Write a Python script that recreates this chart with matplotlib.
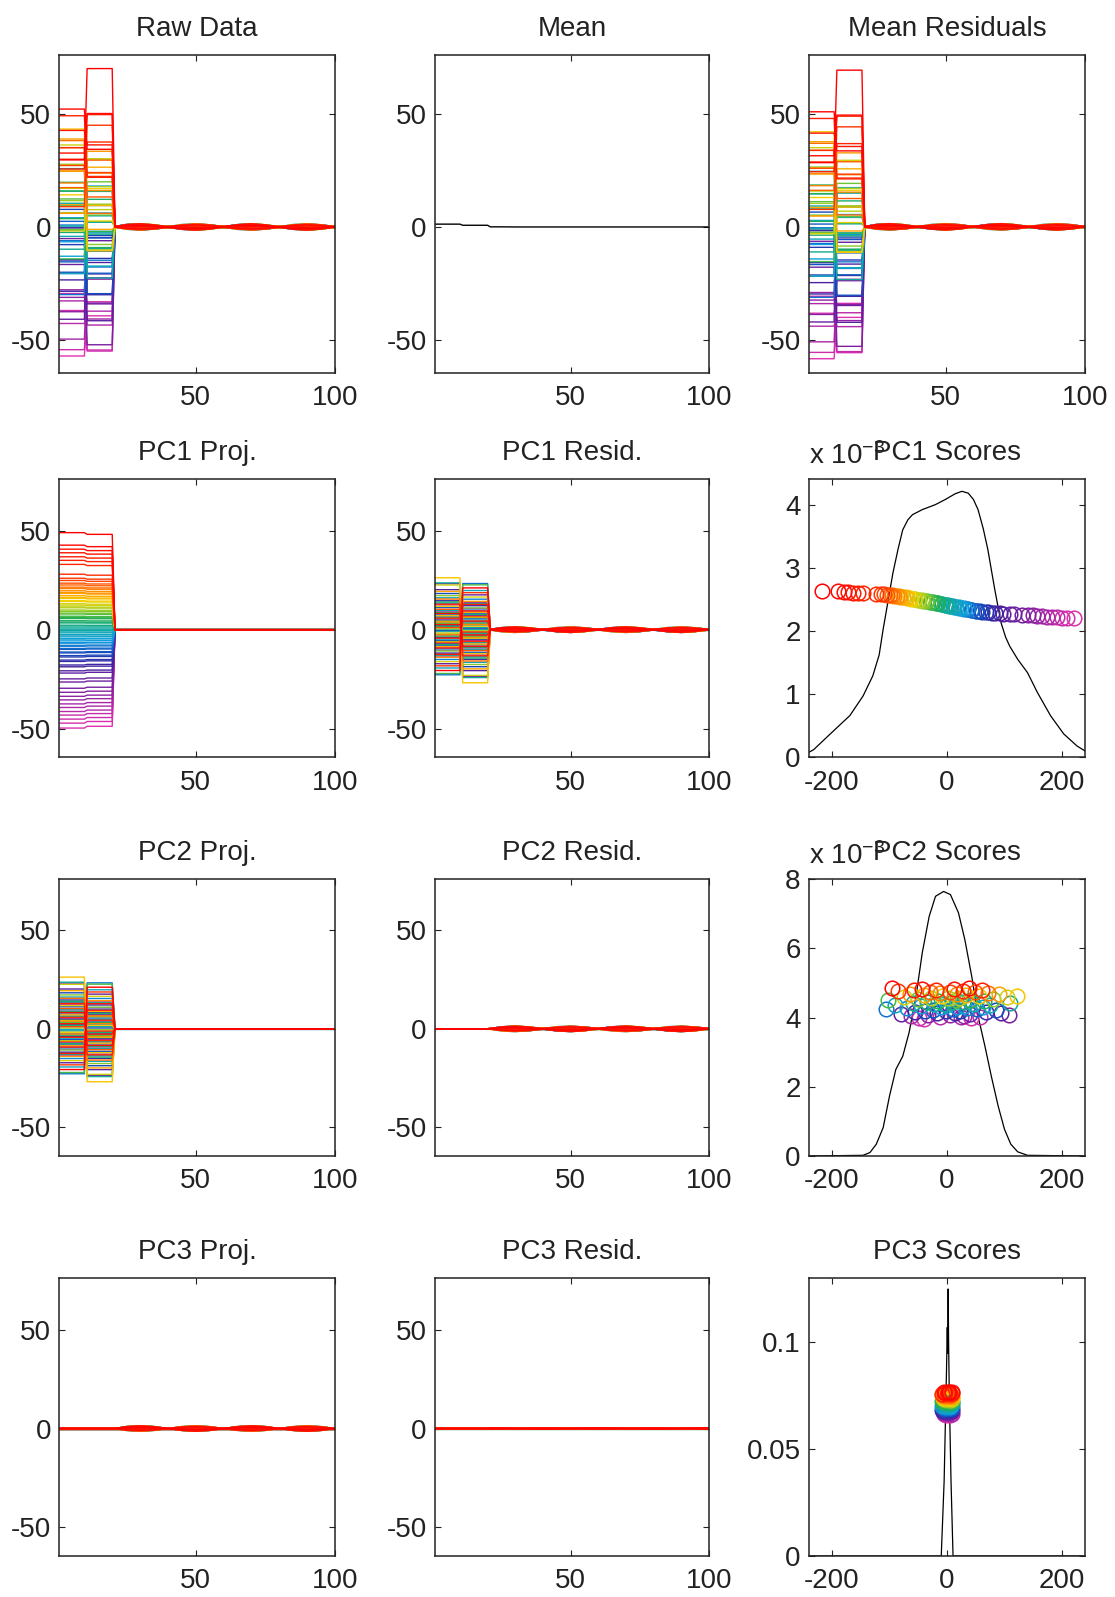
import numpy as np
import matplotlib
matplotlib.use("Agg")
import matplotlib.pyplot as plt
from matplotlib.colors import LinearSegmentedColormap
from matplotlib.ticker import FuncFormatter

plt.rcParams['font.family'] = ['Liberation Sans', 'DejaVu Sans']
plt.rcParams['font.size'] = 20
plt.rcParams['mathtext.fontset'] = 'custom'
plt.rcParams['mathtext.rm'] = 'Liberation Sans'
plt.rcParams['mathtext.it'] = 'Liberation Sans'
plt.rcParams['axes.unicode_minus'] = False
plt.rcParams['text.color'] = '#222222'
plt.rcParams['xtick.color'] = '#222222'
plt.rcParams['ytick.color'] = '#222222'

# sample positions along each curve (variable index)
xs = [1, 10, 11, 20, 21, 25, 30, 35, 40, 45, 50, 55, 60, 65, 70, 75, 80, 85, 90, 95, 100]

mean_curve = [1.2, 1.2, 0.7, 0.7, 0.0, 0.0, -0.05, -0.05, -0.05, -0.05, -0.05, -0.05,
              -0.05, -0.05, -0.05, -0.05, -0.05, -0.05, -0.05, -0.05, -0.05]
load1 = [-0.226, -0.226, -0.222, -0.222, 0, 0, 0, 0, 0, 0, 0, 0, 0, 0, 0, 0, 0, 0, 0, 0, 0]
load2 = [0.215, 0.215, -0.22, -0.22, 0, 0, 0, 0, 0, 0, 0, 0, 0, 0, 0, 0, 0, 0, 0, 0, 0]
load3 = [0, 0, 0, 0, 0, 0.11, 0.158, 0.11, 0, -0.11, -0.158, -0.11, 0,
         0.11, 0.158, 0.11, 0, -0.11, -0.158, -0.11, 0]
load4 = [0, 0, 0, 0, 0.15, 0.11, 0, -0.11, -0.158, -0.11, 0, 0.11, 0.158,
         0.11, 0, -0.11, -0.158, -0.11, 0, 0.11, 0.158]

# per-curve scores, ordered by PC1 score (red -> magenta)
score1 = [-217, -189, -180, -172, -163, -155, -146, -124, -115, -110,
          -104, -100, -95, -92, -87, -83, -81, -76, -72, -70,
          -65, -63, -58, -55, -51, -49, -44, -41, -37, -35,
          -30, -27, -25, -20, -17, -15, -10, -8, -4, -1,
          2, 3, 7, 11, 12, 16, 20, 21, 25, 29,
          30, 35, 37, 42, 44, 50, 52, 58, 61, 68,
          71, 79, 83, 92, 97, 110, 117, 131, 140, 149,
          157, 166, 174, 183, 191, 200, 209, 220]
score2 = [-96, 38, -43, 12, -58, 60, -20, 27, -85, 5,
          48, -30, 72, -12, 18, -65, 90, -40, 33, 122,
          -8, 55, -75, 105, 20, -28, 2, 80, -50, 15,
          -103, 40, -15, 65, -35, 8, 28, -60, 110, -5,
          45, -22, 75, -90, 0, 30, -45, 62, -10, 18,
          -70, 35, -106, 10, 52, -25, 85, -38, 22, -2,
          68, -55, 14, -18, 94, -80, 40, 108, -33, 6,
          30, -62, 25, -12, 58, -48, 42, -40]
score3 = [4, -6, 8, 1, -3, 9, 2, -8, 5, 0,
          -5, 7, 3, -9, 6, -2, 1, 8, -4, 2,
          5, -7, 0, 9, -1, 3, -6, 6, 2, -3,
          7, -8, 1, 4, -5, 8, 0, -2, 6, 3,
          -7, 2, 9, -4, 1, 5, -3, 7, -9, 0,
          4, -1, 6, -6, 2, 8, -4, 3, 1, -8,
          5, 0, 7, -5, 2, 9, -2, 4, -7, 1,
          6, -3, 3, 8, -6, 0, 5, -1]
score4 = [1.2, -0.8, 0.5, -1.5, 1.8, 0.2, -1.1, 0.9, -0.4, 1.4,
          -1.7, 0.6, 1.1, -0.3, -1.2, 1.6, 0.1, -0.9, 1.3, -0.6,
          0.8, -1.4, 1.7, -0.2, 0.4, -1.8, 1.0, -0.7, 0.3, 1.5,
          -1.0, 0.7, -1.6, 1.9, -0.5, 0.0, 1.2, -1.3, 0.6, -0.1,
          1.4, -0.9, 0.2, -1.5, 1.1, 0.8, -0.4, 1.6, -1.1, 0.5,
          -0.8, 1.3, -1.9, 0.3, 0.9, -0.6, 1.7, -1.2, 0.1, 1.0,
          -1.4, 0.4, 1.5, -0.3, -1.0, 0.7, 1.8, -1.6, 0.2, -0.7,
          1.1, -1.3, 0.6, 1.4, -0.5, -1.1, 0.9, -0.2]

# density estimates of the scores (x, y), y for PC1/PC2 in units of 1e-3
kde1_x = [-240, -232, -203, -169, -146, -129, -118, -111, -102, -94, -85, -77, -68, -60, -43,
          -20, -3, 14, 26, 37, 46, 54, 63, 71, 83, 94, 102, 109, 123, 140, 157, 180, 203, 226, 240]
kde1_y = [0.08, 0.12, 0.37, 0.66, 0.97, 1.29, 1.62, 2.03, 2.50, 2.92, 3.30, 3.60, 3.76, 3.84,
          3.92, 4.00, 4.08, 4.17, 4.21, 4.18, 4.08, 3.92, 3.62, 3.29, 2.66, 2.13, 1.90, 1.76,
          1.55, 1.34, 1.03, 0.66, 0.37, 0.18, 0.10]
kde2_x = [-240, -146, -134, -123, -111, -100, -89, -77, -66, -54, -43, -31, -20, -6, 6, 20,
          31, 43, 54, 66, 77, 89, 100, 111, 123, 140, 240]
kde2_y = [0.0, 0.02, 0.10, 0.34, 0.82, 1.73, 2.50, 2.88, 3.56, 4.60, 5.87, 6.92, 7.50, 7.64,
          7.55, 7.02, 6.25, 5.19, 4.04, 3.17, 2.31, 1.44, 0.77, 0.34, 0.12, 0.02, 0.0]
kde3_x = [-240, -10, -5, -1, 0.5, 1.2, 2.0, 2.8, 4, 7, 10.5, 240]
kde3_y = [0.0, 0.0, 0.035, 0.085, 0.107, 0.095, 0.125, 0.10, 0.075, 0.035, 0.0, 0.0]

titles = ["Raw Data", "Mean", "Mean Residuals",
          "PC1 Proj.", "PC1 Resid.", "PC1 Scores",
          "PC2 Proj.", "PC2 Resid.", "PC2 Scores",
          "PC3 Proj.", "PC3 Resid.", "PC3 Scores"]

rainbow = LinearSegmentedColormap.from_list("rb", [
    (0.0, "#ff0000"), (0.1, "#ff3300"), (0.18, "#ff8c00"), (0.26, "#f5d000"),
    (0.33, "#a8d020"), (0.41, "#20b050"), (0.5, "#10a8a0"), (0.62, "#10a0e0"),
    (0.72, "#1050c0"), (0.8, "#4020a0"), (0.88, "#8020a0"), (1.0, "#e030b0")])

s1 = np.array(score1, float)
s2 = np.array(score2, float)
s3 = np.array(score3, float)
s4 = np.array(score4, float)
n = len(s1)
colors = [rainbow(i / (n - 1)) for i in range(n)]

mu = np.array(mean_curve)
p1 = np.outer(s1, load1)
p2 = np.outer(s2, load2)
p3 = np.outer(s3, load3)
p4 = np.outer(s4, load4)
raw = mu + p1 + p2 + p3 + p4

line_sets = {
    0: raw, 2: raw - mu,
    3: p1, 4: p2 + p3 + p4,
    6: p2, 7: p3 + p4,
    9: p3, 10: p4,
}
score_panels = (5, 8, 11)

fig = plt.figure(figsize=(11.15, 15.97), dpi=100)
W, H = 1115.0, 1597.0
col_l = [59.3, 435, 809]
col_w = [275.7, 274, 276]
row_t = [55, 479.3, 879, 1278.3]
row_b = [372.7, 757.3, 1156, 1556]

axes = []
for r in range(4):
    for c in range(3):
        ax = fig.add_axes([col_l[c] / W, 1 - row_b[r] / H, col_w[c] / W, (row_b[r] - row_t[r]) / H])
        axes.append(ax)


def style(ax):
    ax.tick_params(direction='in', length=4, width=0.8, top=True, right=True)
    ax.tick_params(axis='x', pad=9)
    ax.tick_params(axis='y', pad=6)
    for sp in ax.spines.values():
        sp.set_linewidth(1.1)
        sp.set_color('#222222')


for k, ax in enumerate(axes):
    ax.set_title(titles[k], pad=14, fontsize=20)
    style(ax)
    if k not in score_panels:
        ax.set_xlim(1, 100)
        ax.set_ylim(-64.5, 76)
        ax.set_xticks([50, 100])
        ax.set_yticks([-50, 0, 50])
        if k in line_sets:
            data = line_sets[k]
            for i in reversed(range(n)):
                ax.plot(xs, data[i], color=colors[i], lw=1.0)
        elif k == 1:
            ax.plot(xs, mu, color='black', lw=1.0)

# score panels
score_sets = [(5, s1, kde1_x, kde1_y, 1e-3, (2.63, 2.20), 4.4, [0, 1, 2, 3, 4]),
              (8, s2, kde2_x, kde2_y, 1e-3, (4.85, 3.97), 8.0, [0, 2, 4, 6, 8]),
              (11, s3, kde3_x, kde3_y, 1.0, (0.077, 0.066), 0.13, [0, 0.05, 0.1])]
for k, sc, kx, ky, unit, (ytop, ybot), ymax, yt in score_sets:
    ax = axes[k]
    ax.plot(kx, np.array(ky) * unit, color='black', lw=0.9)
    ypos = np.linspace(ytop, ybot, n) * unit
    for i in reversed(range(n)):
        ax.plot(sc[i], ypos[i], 'o', mfc='none', mec=colors[i], ms=10.5, mew=1.1)
    ax.set_xlim(-240, 240)
    ax.set_xticks([-200, 0, 200])
    ax.set_ylim(0, ymax * unit)
    ax.set_yticks(np.array(yt) * unit)
    if unit != 1.0:
        ax.yaxis.set_major_formatter(FuncFormatter(lambda v, p: "%g" % round(v / 1e-3, 6)))
        ax.text(0, 1.054, r"x 10$^{\mathrm{-3}}$", transform=ax.transAxes, ha='left', va='baseline',
                fontsize=20)
    else:
        ax.yaxis.set_major_formatter(FuncFormatter(lambda v, p: "%g" % v))

fig.savefig("out.png", dpi=100)
